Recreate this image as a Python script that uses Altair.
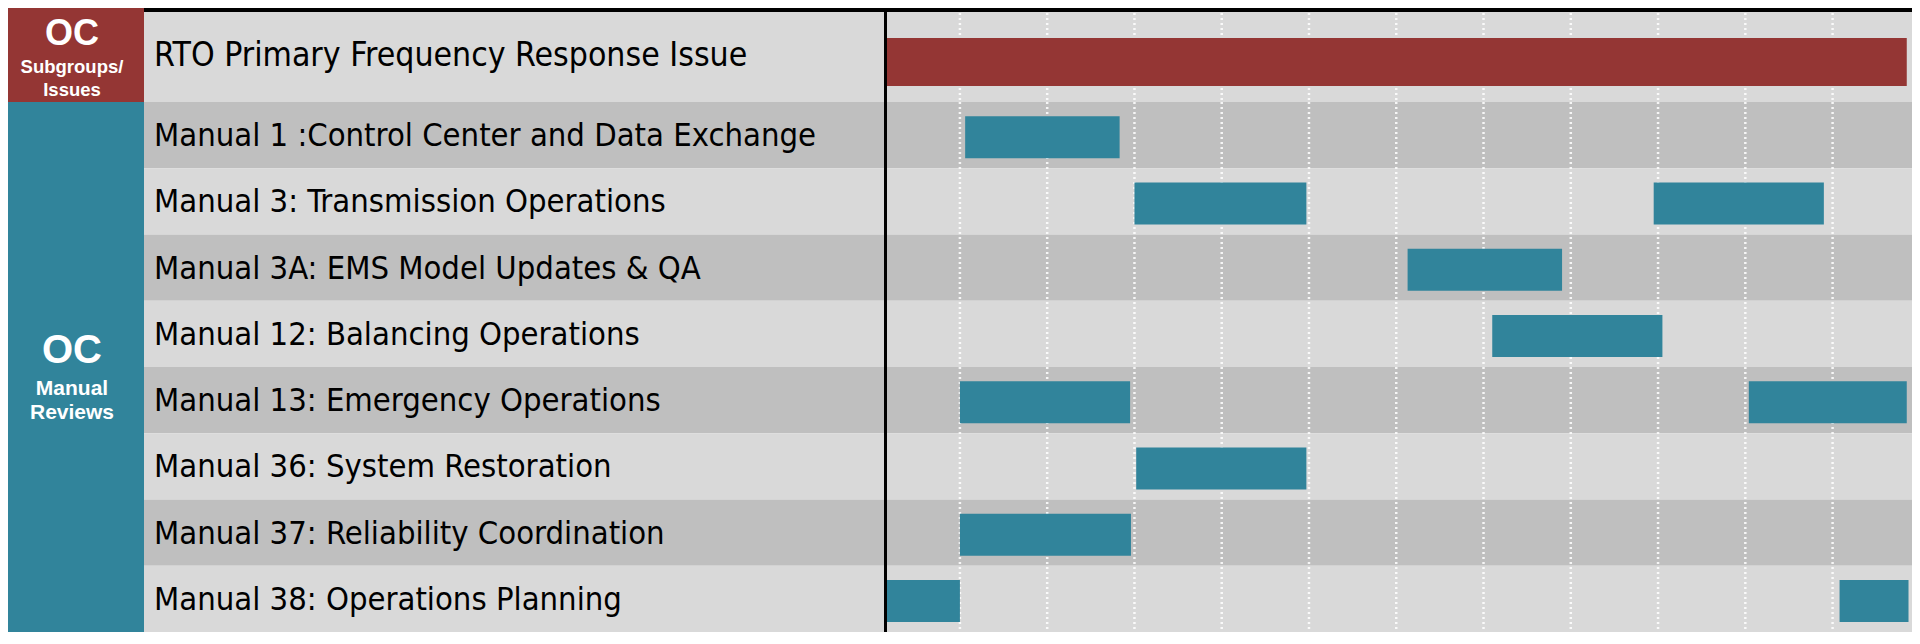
import altair as alt
import pandas as pd

# ---------------- colours & fonts ----------------
RED = "#943634"
TEAL = "#31849B"
LIGHT = "#D9D9D9"
DARK = "#BFBFBF"
LABEL_FONT = "Liberation Sans Narrow, DejaVu Sans Condensed, sans-serif"
BLOCK_FONT = "Liberation Sans, Arial, Helvetica, sans-serif"

# ---------------- data ----------------
group_titles = ["OC", "OC"]
group_line1 = ["Subgroups/", "Manual"]
group_line2 = ["Issues", "Reviews"]

issue_tasks = ["RTO Primary Frequency Response Issue"]
manual_tasks = [
    "Manual 1 :Control Center and Data Exchange",
    "Manual 3: Transmission Operations",
    "Manual 3A: EMS Model Updates & QA",
    "Manual 12: Balancing Operations",
    "Manual 13: Emergency Operations",
    "Manual 36: System Restoration",
    "Manual 37: Reliability Coordination",
    "Manual 38: Operations Planning",
]

bar_tasks = [
    "RTO Primary Frequency Response Issue",
    "Manual 1 :Control Center and Data Exchange",
    "Manual 3: Transmission Operations",
    "Manual 3: Transmission Operations",
    "Manual 3A: EMS Model Updates & QA",
    "Manual 12: Balancing Operations",
    "Manual 13: Emergency Operations",
    "Manual 13: Emergency Operations",
    "Manual 36: System Restoration",
    "Manual 37: Reliability Coordination",
    "Manual 38: Operations Planning",
    "Manual 38: Operations Planning",
]
bar_starts = [0.0, 1.06, 3.0, 8.95, 6.13, 7.1, 1.0, 10.04, 3.02, 1.0, 0.0, 11.08]
bar_ends = [11.85, 2.83, 4.97, 10.9, 7.9, 9.05, 2.95, 11.85, 4.97, 2.96, 1.0, 11.87]

grid_months = [1, 2, 3, 4, 5, 6, 7, 8, 9, 10, 11]
x_domain = [0.13, 11.91]

bars_df = pd.DataFrame({"task": bar_tasks, "start": bar_starts, "end": bar_ends})
grid_df = pd.DataFrame({"m": grid_months})

BLOCK_W, LABEL_W, GANTT_W = 136, 740, 1028
TOP_H, BOT_H = 94, 530


def row_frame(tasks, first_light):
    shades = []
    for i in range(len(tasks)):
        light = (i % 2 == 0) == first_light
        shades.append(LIGHT if light else DARK)
    return pd.DataFrame({"task": tasks, "shade": shades})


def y_enc(tasks):
    return alt.Y("task:N", sort=tasks, axis=None,
                 scale=alt.Scale(domain=tasks, paddingInner=0, paddingOuter=0))


def block(idx, color, height, fs_title, fs_sub, y_title, y_l1, y_l2):
    bdf = pd.DataFrame({"group": [group_titles[idx] + str(idx)],
                        "title": [group_titles[idx]],
                        "l1": [group_line1[idx]],
                        "l2": [group_line2[idx]]})
    base = alt.Chart(bdf)
    bg = base.mark_rect(color=color).encode(
        y=alt.Y("group:N", axis=None, scale=alt.Scale(paddingInner=0, paddingOuter=0)))
    common = dict(font=BLOCK_FONT, fontWeight="bold", color="white",
                  align="center", baseline="middle")
    t0 = base.mark_text(fontSize=fs_title, **common).encode(
        text="title:N", x=alt.value(64), y=alt.value(y_title))
    t1 = base.mark_text(fontSize=fs_sub, **common).encode(
        text="l1:N", x=alt.value(64), y=alt.value(y_l1))
    t2 = base.mark_text(fontSize=fs_sub, **common).encode(
        text="l2:N", x=alt.value(64), y=alt.value(y_l2))
    return alt.layer(bg, t0, t1, t2).properties(width=BLOCK_W, height=height)


def labels(tasks, first_light, height, top_line, fs):
    rows = row_frame(tasks, first_light)
    y = y_enc(tasks)
    bg = alt.Chart(rows).mark_rect().encode(y=y, color=alt.Color("shade:N", scale=None))
    txt = alt.Chart(rows).mark_text(align="left", baseline="middle", dx=10, dy=1,
                                    font=LABEL_FONT, fontSize=fs, color="black").encode(
        y=y, text="task:N", x=alt.value(0))
    layers = [bg, txt]
    if top_line:
        layers.append(alt.Chart(rows).mark_rule(color="black", strokeWidth=4, clip=True)
                      .encode(y=alt.value(2)))
    return alt.layer(*layers).properties(width=LABEL_W, height=height)


def gantt(tasks, first_light, height, top_line, bar_color, bar_size, bar_offset):
    rows = row_frame(tasks, first_light)
    y = y_enc(tasks)
    xs = alt.Scale(domain=x_domain, nice=False, zero=False)
    bg = alt.Chart(rows).mark_rect().encode(y=y, color=alt.Color("shade:N", scale=None))
    grid = alt.Chart(grid_df).mark_rule(color="white", strokeWidth=2.5, strokeDash=[2, 3],
                                        opacity=0.85, clip=True).encode(
        x=alt.X("m:Q", scale=xs, axis=None))
    bdf = bars_df[bars_df["task"].isin(tasks)]
    bars = alt.Chart(bdf).mark_bar(color=bar_color, size=bar_size, yOffset=bar_offset,
                                   clip=True).encode(
        x=alt.X("start:Q", scale=xs, axis=None), x2="end:Q", y=y)
    vline = alt.Chart(rows).mark_rule(color="black", strokeWidth=3, clip=True).encode(
        x=alt.value(1.5))
    layers = [bg, grid, bars, vline]
    if top_line:
        layers.append(alt.Chart(rows).mark_rule(color="black", strokeWidth=4, clip=True)
                      .encode(y=alt.value(2)))
    return alt.layer(*layers).properties(width=GANTT_W, height=height)


chart = (
    alt.concat(
        block(0, RED, TOP_H, 36, 18.5, 26, 59, 82),
        labels(issue_tasks, True, TOP_H, True, 33.5),
        gantt(issue_tasks, True, TOP_H, True, RED, 48, 7),
        block(1, TEAL, BOT_H, 40, 21, 249, 287, 311),
        labels(manual_tasks, False, BOT_H, False, 32.5),
        gantt(manual_tasks, False, BOT_H, False, TEAL, 42, 2),
        columns=3, spacing=0, bounds="flush", align="each",
    )
    .properties(padding=0, background="white")
    .configure_view(stroke=None)
    .configure_concat(spacing=0)
)

chart.save("out.html", embed_options={"renderer": "svg", "actions": False})
